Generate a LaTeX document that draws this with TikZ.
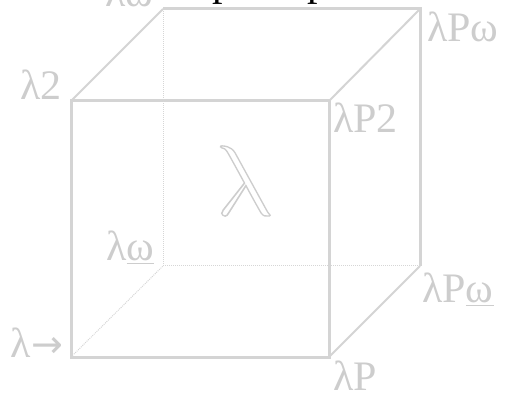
\documentclass[tikz,border=0pt]{standalone}
\usepackage{fontspec}
\setmainfont{Liberation Serif}
\newfontfamily\arrowfont{DejaVu Sans}
\definecolor{cubeline}{HTML}{D4D4D4}
\definecolor{cubetext}{HTML}{CDCDCD}
\definecolor{hiddenline}{HTML}{D6D6D6}
\newcommand{\outlinetext}[1]{\special{pdf:literal direct 1 Tr 0.36 w}#1\special{pdf:literal direct 0 Tr}}
\newcommand{\ulom}{\underline{ω}}
\tikzset{
  edge/.style={draw=cubeline, line width=3pt, line join=miter},
  diagedge/.style={draw=cubeline, line width=2pt},
  hiddenedge/.style={draw=hiddenline, line width=1pt, dash pattern=on 1pt off 1pt},
  lbl/.style={text=cubetext, font=\fontsize{42}{48}\selectfont, inner sep=0pt, anchor=base west},
  biglbl/.style={lbl, font=\fontsize{24.5}{26}\selectfont},
  cutlbl/.style={text=black, font=\fontsize{42}{48}\selectfont, inner sep=0pt, anchor=base west},
}
\begin{document}
\begin{tikzpicture}[x=1pt,y=-1pt]
\useasboundingbox (0,0) rectangle (506,395);
% corners
\coordinate (A) at (71,357);   % lambda ->
\coordinate (B) at (329,357);  % lambda P
\coordinate (C) at (329,101);  % lambda P2
\coordinate (D) at (71,101);   % lambda 2
\coordinate (E) at (163,266);  % lambda omega underlined
\coordinate (F) at (420,266);  % lambda P omega underlined
\coordinate (G) at (420,9);    % lambda P omega
\coordinate (H) at (163,9);    % lambda omega
% hidden edges
\draw[hiddenedge] (A) -- (E);
\draw[hiddenedge] (E) -- (F);
\draw[hiddenedge] (E) -- (H);
% visible edges
\draw[diagedge] (D) -- (H);
\draw[diagedge] (C) -- (G);
\draw[diagedge] (B) -- (F);
\draw[edge] (H) -- (G) -- (F);
\draw[edge] (A) -- (B) -- (C) -- (D) -- cycle;
% labels
\node[lbl] (lw) at (105,7) {λω};
\node[lbl] (lpw) at (427,42) {λPω};
\node[lbl] (l2) at (20,100) {λ2};
\node[lbl] (lp2) at (333,133) {λP2};
\node[lbl] (lwu) at (106,261) {λ\ulom};
\node[lbl] (lpwu) at (422,303) {λP\ulom};
\node[lbl] (larr) at (10,357) {λ\kern1pt{\arrowfont\fontsize{38}{44}\selectfont →}};
\node[lbl] (lp) at (333,390) {λP};
\begin{scope}[shift={(216,215)}, xslant=-0.2, scale=4]
\node[biglbl, transform shape] (big) at (0,0) {\outlinetext{$\lambda$}};
\end{scope}
% cut-off text above the picture
\node[cutlbl] (p1) at (212,-4) {p};
\node[cutlbl] (p2) at (307,-4) {p};
\end{tikzpicture}
\end{document}
